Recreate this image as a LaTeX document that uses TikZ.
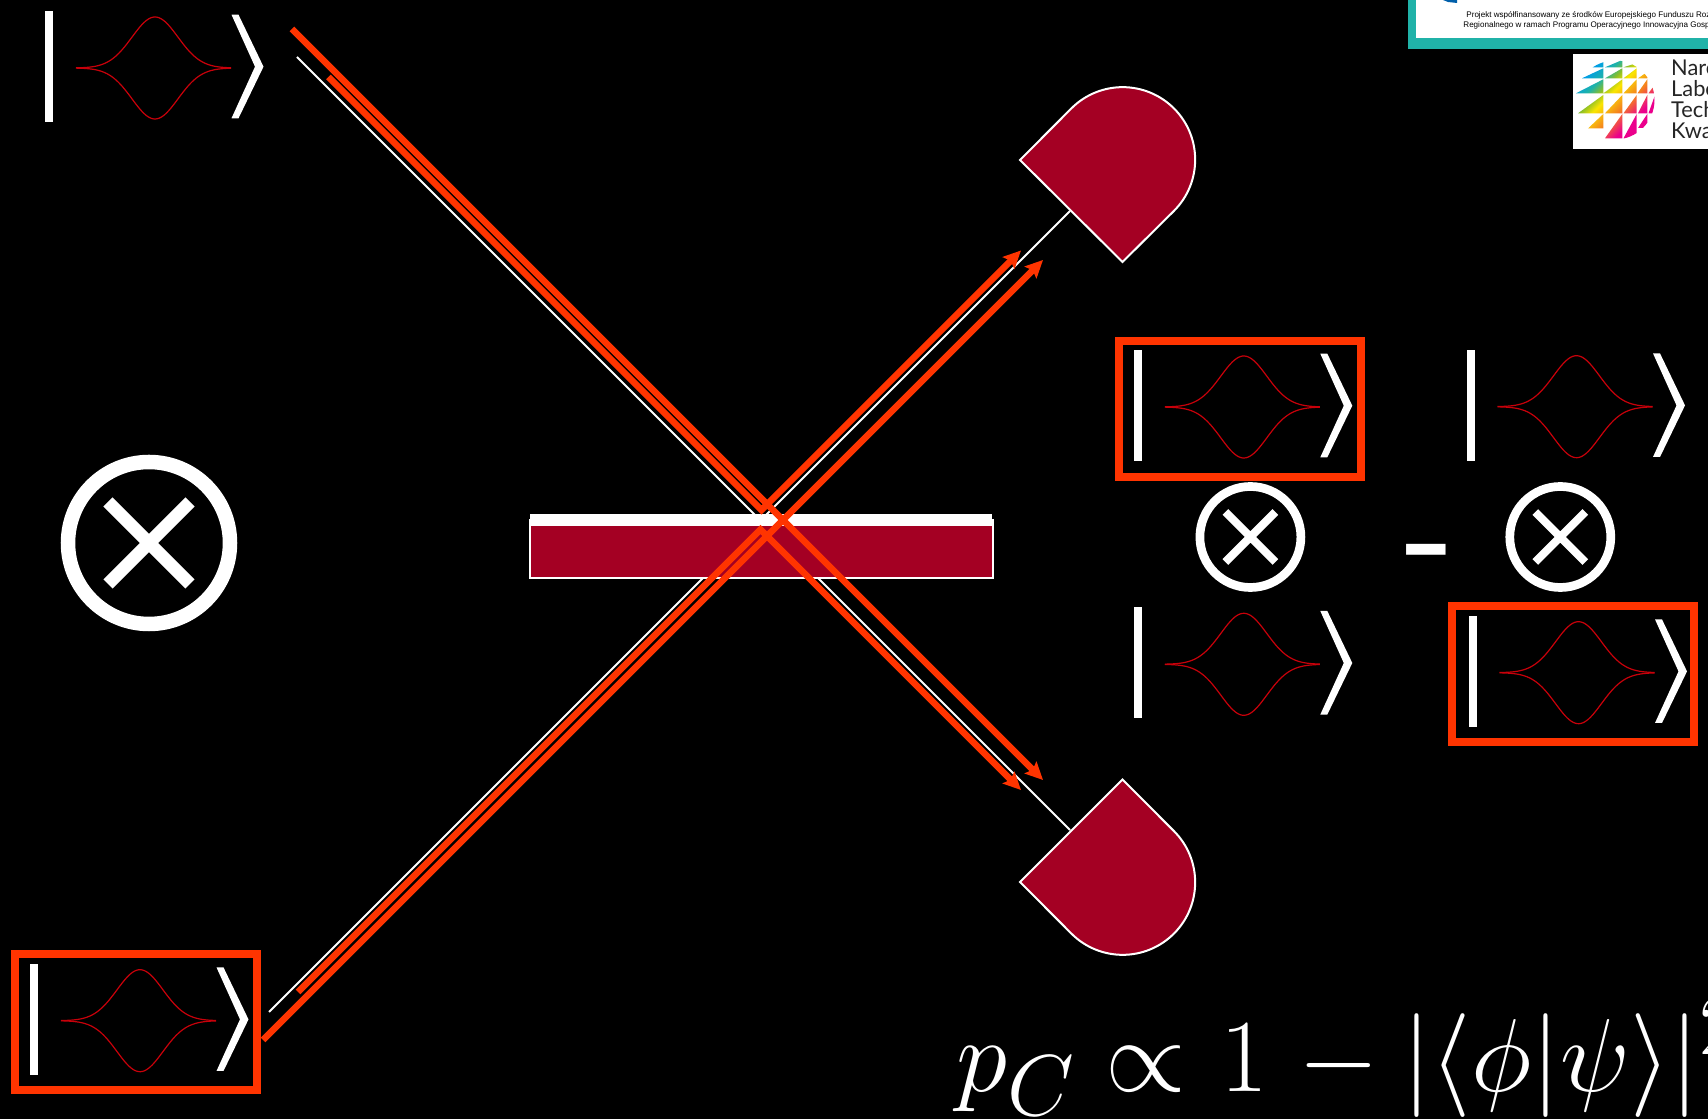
\documentclass[tikz,border=0pt]{standalone}
\usepackage[no-math]{fontspec}
\usepackage{amsmath,amssymb,xcolor}
\usetikzlibrary{arrows.meta,positioning,calc}
\newfontfamily\noteFont{Liberation Sans}
\newfontfamily\labFont{Lato}
\definecolor{qorange}{RGB}{255,52,0}
\definecolor{qred}{RGB}{164,0,35}
\definecolor{qpulse}{RGB}{200,0,10}
\definecolor{qteal}{RGB}{32,178,168}
\definecolor{qblue}{RGB}{0,95,170}
\pgfdeclarehorizontalshading{logograd}{100bp}{rgb(0bp)=(0,.62,.9);
  rgb(29bp)=(0,.62,.9);rgb(36bp)=(.12,.7,.66);
  rgb(41bp)=(.55,.75,.15);rgb(46bp)=(.98,.9,0);
  rgb(56bp)=(.96,.5,.12);rgb(65bp)=(.92,0,.55);
  rgb(100bp)=(.92,0,.55)}

\begin{document}
\begin{tikzpicture}[x=0.01cm,y=-0.01cm,
    beam/.style={qorange,line width=0.065cm},
    beamtip/.style={beam,-{Stealth[length=0.175cm,width=0.165cm,inset=0.03cm]}},
    thinbeam/.style={white,line width=0.02cm},
    detector/.style={draw=white,fill=qred,line width=0.02cm},
    ketbox/.style={draw=qorange,line width=0.08cm,minimum width=2.42cm,minimum height=1.36cm,inner sep=0pt},
    ket/.pic={
      \fill[white] (-108.5,-57) rectangle (-100.5,54);
      \fill[white] (78,-53.3) -- (85,-53.3) -- (110,-1.3) -- (85,50.3) -- (78,50.3) -- (101.5,-1.3) -- cycle;
      \draw[qpulse,line width=0.012cm] plot[domain=-79:76,samples=81,smooth] (\x+1.5,{51*exp(-((\x)^2)/1052)});
      \draw[qpulse,line width=0.012cm] plot[domain=-79:76,samples=81,smooth] (\x+1.5,{-51*exp(-((\x)^2)/1052)});
    }]
  \useasboundingbox (0,0) rectangle (1708,1119);
  \fill[black] (0,0) rectangle (1708,1119);

  % Beam ends
  \coordinate (thinTL) at (297,57);
  \coordinate (thinBR) at (1070,830);
  \coordinate (thinBL) at (269,1012);
  \coordinate (thinTR) at (1070,211);
  \coordinate (inA) at (292,29);
  \coordinate (inB) at (328.5,77);
  \coordinate (inC) at (263,1040);
  \coordinate (inD) at (298,992);
  \coordinate (hitB) at (761.5,510);
  \coordinate (hitD) at (760.5,529.5);
  \coordinate (outA) at (1043,780);
  \coordinate (outB) at (1021,250.5);
  \coordinate (outC) at (1043,260);
  \coordinate (outD) at (1021,790);
  \draw[thinbeam] (thinTL) -- (thinBR);
  \draw[thinbeam] (thinBL) -- (thinTR);

  % Beam splitter
  \draw[detector] (529.5,520) rectangle (992.5,578);
  \fill[white] (530,514) rectangle (992,526);
  \draw[beamtip] (inA) -- (outA);
  \draw[beamtip] (inC) -- (outC);
  \draw[beamtip] (inB) -- (hitB) -- (outB);
  \draw[beamtip] (inD) -- (hitD) -- (outD);

  % Detectors
  \draw[detector] (1020,160) -- (1071.4,108.4) arc[start angle=225,end angle=405,radius=72.5] -- (1122.5,262) -- cycle;
  \draw[detector] (1020,882) -- (1071.4,933.6) arc[start angle=135,end angle=-45,radius=72.5] -- (1122.5,779.5) -- cycle;

  % Kets
  \foreach \n/\x/\y in {ketA/153.5/68,ketB/138.5/1020.7,ketC/1242.3/407,ketD/1575/406.7,ketE/1242.3/664.3,ketF/1577/672.7}{
    \pic (\n) at (\x,\y) {ket};
  }
  \node[ketbox] (boxB) at (136,1022) {};
  \node[ketbox] (boxC) at (1240,409) {};
  \node[ketbox] (boxF) at (1573,673.9) {};

  % Products
  \coordinate (prodA) at (149,543);
  \draw[white,line width=0.145cm] (prodA) circle[radius=81];
  \draw[white,line width=0.13cm] (prodA) +(-41,-41) -- +(41,41) (prodA) +(-41,41) -- +(41,-41);
  \foreach \n/\x in {prodB/1250.4,prodC/1560.3}{
    \coordinate (\n) at (\x,537);
    \draw[white,line width=0.087cm] (\n) circle[radius=50.5];
    \draw[white,line width=0.08cm] (\n) +(-25,-25) -- +(25,25) (\n) +(-25,25) -- +(25,-25);
  }
  \node[white,inner sep=0pt,font=\noteFont\bfseries\fontsize{26}{30}\selectfont] (minus) at (1426.5,559) {\scalebox{1.7}[1]{-}};

  % Formula
  \node[white,anchor=base west,inner sep=0pt] (formula) at (956,1091.7)
    {\scalebox{1.186}{\Huge $p_C\propto\hspace{1.3pt}1\hspace{1.8pt}-|\langle\phi|\psi\rangle|^2$}};

  % Logos
  \fill[qteal] (1408,0) rectangle (1708,49);
  \fill[white] (1415.7,0) rectangle (1708,38);
  \fill[qblue] (1443,0) -- (1457,0) -- (1457,3) -- (1448,2) -- cycle;
  \fill[white] (1573,54) rectangle (1708,148.7);
  \begin{scope}
    \clip (1615,100) circle[radius=39.5];
    \clip \foreach \a/\b/\c/\d in {1592/67.3/1603.3/61,1605/67.3/1622.3/60,1623.5/67.3/1636.7/63,
      1582/78.3/1603.3/68.3,1605/78.3/1622.3/68.3,1623.5/78.3/1636.7/68.3,1638/78.3/1647.3/72,
      1576/93.3/1603.3/79.3,1603.5/93.3/1622.3/79.3,1623.5/93.3/1636.7/79.3,1637.5/93.3/1647.3/79.3,1648.5/93.3/1654.5/85,
      1578/113.3/1603.3/95,1605/113.3/1622.3/95,1623.5/113.3/1636.7/95,1638/113.3/1647.3/95,1648.5/113.3/1655/95,
      1588/128.5/1603.3/114,1605/138.3/1622.3/114,1623.5/138.3/1636.7/114,1638/128/1647.3/114}
      {(\a,\b) -- (\c,\d) -- (\c,\b) -- cycle};
    \shade[shading=logograd,shading angle=-45] (1570,55) rectangle (1660,145);
  \end{scope}
  \begin{scope}
    \clip (0,0) rectangle (1708,1119);
    \node[black,anchor=base west,inner sep=0pt,font=\noteFont\fontsize{2.3}{3}\selectfont] (noteA) at (1465.7,17.5)
      {Projekt współfinansowany ze środków Europejskiego Funduszu Roz};
    \node[black,anchor=base west,inner sep=0pt,font=\noteFont\fontsize{2.3}{3}\selectfont] (noteB) at (1462.7,27.5)
      {Regionalnego w ramach Programu Operacyjnego Innowacyjna Gospo};
    \foreach \n/\t/\y in {labA/Naro/76,labB/Labo/97,labC/Tech/118,labD/Kwa/139}{
      \node[black!85,anchor=base west,inner sep=0pt,font=\labFont\fontsize{6.2}{7}\selectfont] (\n) at (1670.5,\y) {\t};
    }
  \end{scope}
\end{tikzpicture}
\end{document}
